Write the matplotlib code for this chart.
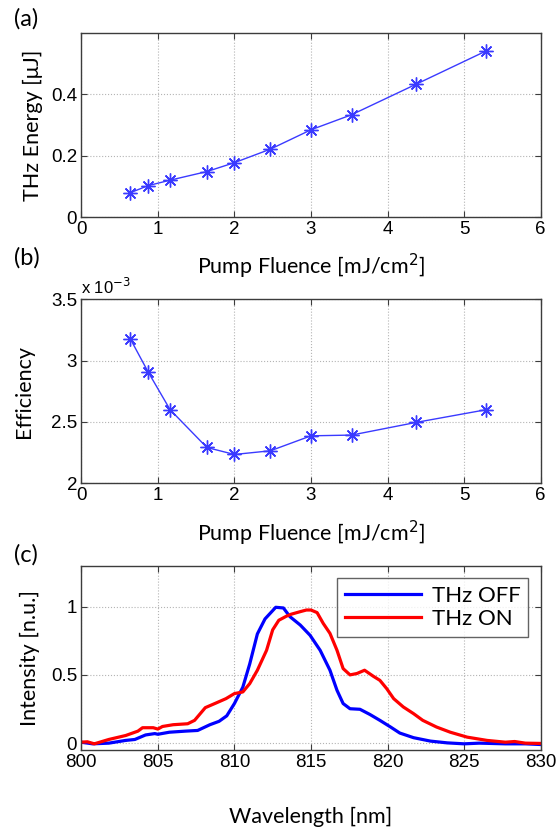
import numpy as np
import matplotlib.pyplot as plt

# (a) THz energy vs pump fluence
fluence = [0.64, 0.87, 1.16, 1.64, 2.0, 2.47, 3.0, 3.53, 4.37, 5.29]
thz_energy = [0.079, 0.102, 0.120, 0.148, 0.177, 0.221, 0.284, 0.333, 0.432, 0.541]

# (b) conversion efficiency (x 1e-3)
efficiency = [3.178, 2.911, 2.60, 2.292, 2.235, 2.265, 2.387, 2.393, 2.496, 2.60]

# (c) spectra, THz off
wl_off = [800, 800.74, 801.8, 802.9, 803.5, 804.2, 804.8, 805, 805.75, 806.8,
          807.6, 808.4, 809, 809.5, 810, 810.55, 811, 811.5, 812, 812.7,
          813.2, 813.63, 814.3, 814.94, 815.6, 816.24, 816.7, 817.1, 817.55,
          818.2, 818.85, 819.5, 820.2, 820.8, 821.7, 822.8, 823.9, 825, 826,
          827.7, 829, 830]
spec_off = [0.007, -0.005, 0.0, 0.02, 0.027, 0.06, 0.07, 0.065, 0.08, 0.088,
            0.093, 0.135, 0.16, 0.20, 0.29, 0.41, 0.58, 0.80, 0.91, 0.995,
            0.99, 0.926, 0.865, 0.79, 0.68, 0.534, 0.387, 0.29, 0.252, 0.248,
            0.21, 0.167, 0.118, 0.074, 0.04, 0.015, 0.002, -0.005, 0.0,
            -0.005, -0.005, -0.01]
# (c) spectra, THz on
wl_on = [800, 800.4, 800.85, 801.8, 802.9, 803.7, 804, 804.7, 805, 805.3, 806,
         806.95, 807.4, 808.1, 808.8, 809.45, 810, 810.55, 811, 811.5, 812.1,
         812.5, 812.9, 813.4, 813.7, 814.3, 814.7, 815.0, 815.4, 815.8,
         816.24, 816.7, 817.1, 817.55, 818.0, 818.5, 819.07, 819.5, 819.94,
         820.4, 821.03, 821.7, 822.3, 823.2, 824.1, 825.2, 826.5, 827.7,
         828.3, 829, 830]
spec_on = [0.007, 0.01, -0.005, 0.027, 0.056, 0.088, 0.113, 0.113, 0.103,
           0.122, 0.135, 0.142, 0.167, 0.26, 0.294, 0.326, 0.363, 0.375,
           0.436, 0.534, 0.68, 0.83, 0.90, 0.93, 0.944, 0.963, 0.975, 0.975,
           0.956, 0.877, 0.804, 0.68, 0.546, 0.50, 0.51, 0.534, 0.49, 0.46,
           0.40, 0.326, 0.265, 0.216, 0.167, 0.118, 0.08, 0.044, 0.02, 0.007,
           0.012, 0.0, -0.002]

label_font = "Lato"
tick_font = "Liberation Sans"
line_blue = "#3a3aff"
frame_col = "#3c3c3c"

fig = plt.figure(figsize=(5.59, 8.36), dpi=100)
ax_a = fig.add_axes([0.1454, 0.7404, 0.8218, 0.2197])
ax_b = fig.add_axes([0.1454, 0.4219, 0.8218, 0.2201])
ax_c = fig.add_axes([0.1454, 0.1029, 0.8218, 0.2205])


def style_axes(ax):
    ax.grid(True, linestyle=":", color="#b4b4b4", linewidth=0.8)
    ax.tick_params(direction="in", length=4, top=True, right=True,
                   labelsize=13.5, color=frame_col, pad=3,
                   labelfontfamily=tick_font)
    for sp in ax.spines.values():
        sp.set_color(frame_col)
        sp.set_linewidth(1.0)


star = (8, 2, 0)

ax_a.plot(fluence, thz_energy, color=line_blue, marker=star, markersize=10,
          markeredgewidth=1.0, linewidth=1.0)
ax_a.set_xlim(0, 6)
ax_a.set_ylim(0, 0.598)
ax_a.set_xticks([0, 1, 2, 3, 4, 5, 6])
ax_a.set_yticks([0, 0.2, 0.4])
ax_a.set_yticklabels(["0", "0.2", "0.4"])
ax_a.set_ylabel("THz Energy [\u03bcJ]", fontsize=15.5, family=label_font,
                labelpad=6)
ax_a.set_xlabel("Pump Fluence [mJ/cm$^2$]", fontsize=15.5, family=label_font,
                labelpad=10)
style_axes(ax_a)

ax_b.plot(fluence, efficiency, color=line_blue, marker=star, markersize=10,
          markeredgewidth=1.0, linewidth=1.0)
ax_b.set_xlim(0, 6)
ax_b.set_ylim(2, 3.5)
ax_b.set_xticks([0, 1, 2, 3, 4, 5, 6])
ax_b.set_yticks([2, 2.5, 3, 3.5])
ax_b.set_yticklabels(["2", "2.5", "3", "3.5"])
ax_b.set_ylabel("Efficiency", fontsize=15.5, family=label_font, labelpad=12)
ax_b.set_xlabel("Pump Fluence [mJ/cm$^2$]", fontsize=15.5, family=label_font,
                labelpad=10)
ax_b.text(0.0, 1.015, "x 10$^{-3}$", transform=ax_b.transAxes, fontsize=12,
          family=tick_font, ha="left", va="bottom")
style_axes(ax_b)

ax_c.plot(wl_off, spec_off, color="#0000ff", linewidth=2.3, label="THz OFF")
ax_c.plot(wl_on, spec_on, color="#ff0000", linewidth=2.3, label="THz ON")
ax_c.set_xlim(800, 830)
ax_c.set_ylim(-0.05, 1.3)
ax_c.set_xticks([800, 805, 810, 815, 820, 825, 830])
ax_c.set_yticks([0, 0.5, 1])
ax_c.set_yticklabels(["0", "0.5", "1"])
ax_c.set_ylabel("Intensity [n.u.]", fontsize=15.5, family=label_font,
                labelpad=8)
ax_c.set_xlabel("Wavelength [nm]", fontsize=15.5, family=label_font,
                labelpad=26)
leg = ax_c.legend(loc="upper right", fancybox=False, edgecolor=frame_col,
                  prop={"family": label_font, "size": 16}, handlelength=3.4,
                  handletextpad=0.5, borderaxespad=0.55, labelspacing=0.15,
                  borderpad=0.35)
leg.get_frame().set_linewidth(1.0)
style_axes(ax_c)

for label, y in [("(a)", 0.978), ("(b)", 0.692), ("(c)", 0.336)]:
    fig.text(0.025, y, label, fontsize=17, family=label_font, va="center")

fig.savefig("out.png", dpi=100)
